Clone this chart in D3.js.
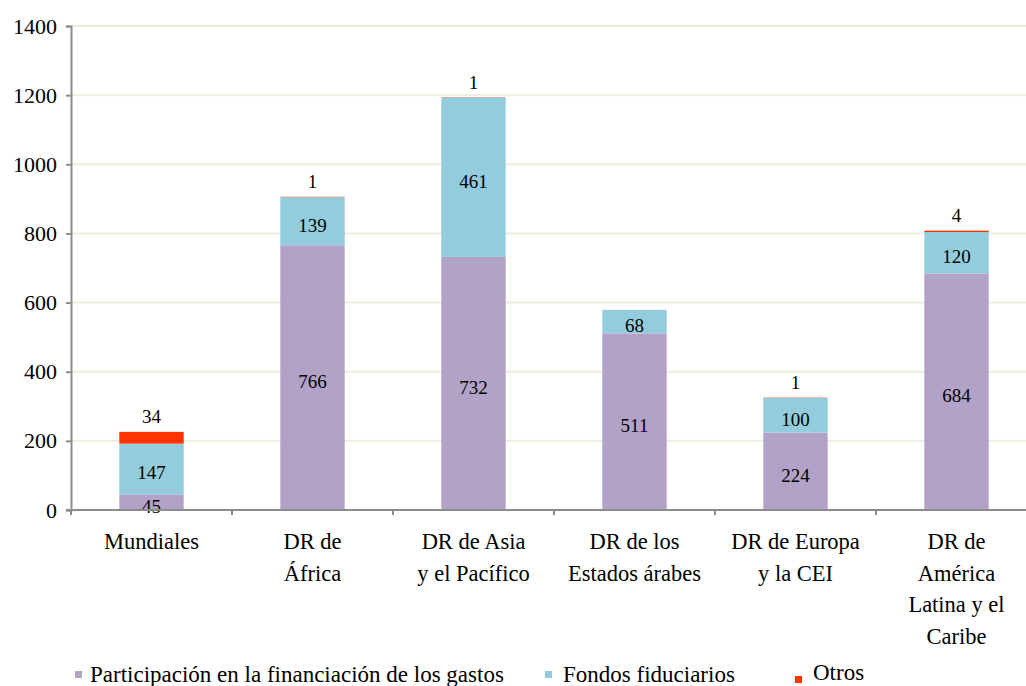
<!DOCTYPE html>
<html>
<head>
<meta charset="utf-8">
<script src="https://cdn.jsdelivr.net/npm/d3@7"></script>
<style>
  body { margin: 0; background: #fff; }
  text { font-family: "Liberation Serif", "Times New Roman", Times, "Nimbus Roman", "DejaVu Serif", serif; fill: #000; }
</style>
</head>
<body>
<script>
// chart data
var categories = [
    ["Mundiales"],
    ["DR de", "África"],
    ["DR de Asia", "y el Pacífico"],
    ["DR de los", "Estados árabes"],
    ["DR de Europa", "y la CEI"],
    ["DR de", "América", "Latina y el", "Caribe"]
];
var participacion = [45, 766, 732, 511, 224, 684];
var fondos = [147, 139, 461, 68, 100, 120];
var otros = [34, 1, 1, 0, 1, 4];
var seriesNames = ["Participación en la financiación de los gastos", "Fondos fiduciarios", "Otros"];
var seriesColors = ["#b3a2c7", "#93cddd", "#ff3300"];
var yTicks = [0, 200, 400, 600, 800, 1000, 1200, 1400];

var width = 1026, height = 686;
var plotLeft = 71, plotTop = 26, plotBottom = 510, plotRight = 1037;
var serif = "'Liberation Serif', 'Times New Roman', Times, 'Nimbus Roman', 'DejaVu Serif', serif";

var svg = d3.select("body").append("svg")
    .attr("width", width)
    .attr("height", height)
    .attr("font-family", serif);

var x = d3.scaleBand()
    .domain(d3.range(categories.length))
    .range([plotLeft, plotRight])
    .paddingInner(0.6)
    .paddingOuter(0.3);

var xOuter = d3.scaleBand()
    .domain(d3.range(categories.length))
    .range([plotLeft, plotRight]);

var y = d3.scaleLinear()
    .domain([0, 1400])
    .range([plotBottom, plotTop]);

/* gridlines */
svg.append("g")
    .selectAll("line")
    .data(yTicks.slice(1))
    .enter().append("line")
    .attr("x1", plotLeft).attr("x2", width)
    .attr("y1", function(d) { return y(d); })
    .attr("y2", function(d) { return y(d); })
    .attr("stroke", "#eeece0")
    .attr("stroke-width", 2);

/* stacked bars */
var table = categories.map(function(c, i) {
    return { i: i, p: participacion[i], f: fondos[i], o: otros[i] };
});
var stack = d3.stack().keys(["p", "f", "o"]);
var layers = stack(table);

svg.append("g")
    .selectAll("g")
    .data(layers)
    .enter().append("g")
    .attr("fill", function(d, k) { return seriesColors[k]; })
    .selectAll("rect")
    .data(function(d) { return d; })
    .enter().append("rect")
    .attr("x", function(d) { return x(d.data.i); })
    .attr("width", x.bandwidth())
    .attr("y", function(d) { return y(d[1]); })
    .attr("height", function(d) { return y(d[0]) - y(d[1]); });

/* labels inside segments (first two series) */
layers.slice(0, 2).forEach(function(layer) {
    svg.append("g")
        .selectAll("text")
        .data(layer)
        .enter().append("text")
        .attr("x", function(d) { return x(d.data.i) + x.bandwidth() / 2; })
        .attr("y", function(d) { return (y(d[0]) + y(d[1])) / 2 + 6; })
        .attr("text-anchor", "middle")
        .attr("dominant-baseline", "middle")
        .style("font-size", "19px")
        .text(function(d) { return d[1] - d[0]; });
});

/* Otros labels above the bars */
svg.append("g")
    .selectAll("text")
    .data(layers[2].filter(function(d) { return d[1] - d[0] > 0; }))
    .enter().append("text")
    .attr("x", function(d) { return x(d.data.i) + x.bandwidth() / 2; })
    .attr("y", function(d) { return y(d[1]) - 13; })
    .attr("text-anchor", "middle")
    .attr("dominant-baseline", "middle")
    .style("font-size", "19px")
    .text(function(d) { return d[1] - d[0]; });

/* y axis */
var yAxis = d3.axisLeft(y)
    .tickValues(yTicks)
    .tickFormat(d3.format("d"))
    .tickSize(5)
    .tickPadding(9);
var gy = svg.append("g")
    .attr("transform", "translate(" + plotLeft + ",0)")
    .call(yAxis)
    .attr("font-family", serif);
gy.select(".domain").attr("stroke", "#8c8c8c").attr("stroke-width", 2);
gy.selectAll(".tick line").attr("stroke", "#8c8c8c").attr("stroke-width", 2);
gy.selectAll(".tick text")
    .style("font-size", "22px");

/* x axis baseline and ticks at band boundaries */
svg.append("line")
    .attr("x1", plotLeft - 5).attr("x2", width)
    .attr("y1", plotBottom).attr("y2", plotBottom)
    .attr("stroke", "#8c8c8c").attr("stroke-width", 2);

svg.append("g")
    .selectAll("line")
    .data(d3.range(categories.length + 1))
    .enter().append("line")
    .attr("x1", function(i) { return plotLeft + i * xOuter.bandwidth(); })
    .attr("x2", function(i) { return plotLeft + i * xOuter.bandwidth(); })
    .attr("y1", plotBottom).attr("y2", plotBottom + 5)
    .attr("stroke", "#8c8c8c").attr("stroke-width", 2);

/* category labels */
var catG = svg.append("g")
    .selectAll("text")
    .data(categories)
    .enter().append("text")
    .attr("text-anchor", "middle")
    .attr("x", function(d, i) { return xOuter(i) + xOuter.bandwidth() / 2; })
    .attr("y", 549)
    .style("font-size", "22.5px");
catG.selectAll("tspan")
    .data(function(d) { return d; })
    .enter().append("tspan")
    .attr("x", function() { return d3.select(this.parentNode).attr("x"); })
    .attr("dy", function(d, j) { return j === 0 ? 0 : 31.5; })
    .text(function(d) { return d; });

/* legend */
var legendX = [75, 545, 795];
var legendY = [671, 671, 676];
var legendTextY = [11, 11, 4];
var legend = svg.append("g")
    .selectAll("g")
    .data(seriesNames)
    .enter().append("g")
    .attr("transform", function(d, k) { return "translate(" + legendX[k] + "," + legendY[k] + ")"; });
legend.append("rect")
    .attr("x", 0).attr("y", 0)
    .attr("width", 7).attr("height", 7)
    .attr("fill", function(d, k) { return seriesColors[k]; });
legend.append("text")
    .attr("x", function(d, k) { return k === 0 ? 15 : 18; })
    .attr("y", function(d, k) { return legendTextY[k]; })
    .style("font-size", "23px")
    .text(function(d) { return d; });
</script>
</body>
</html>
